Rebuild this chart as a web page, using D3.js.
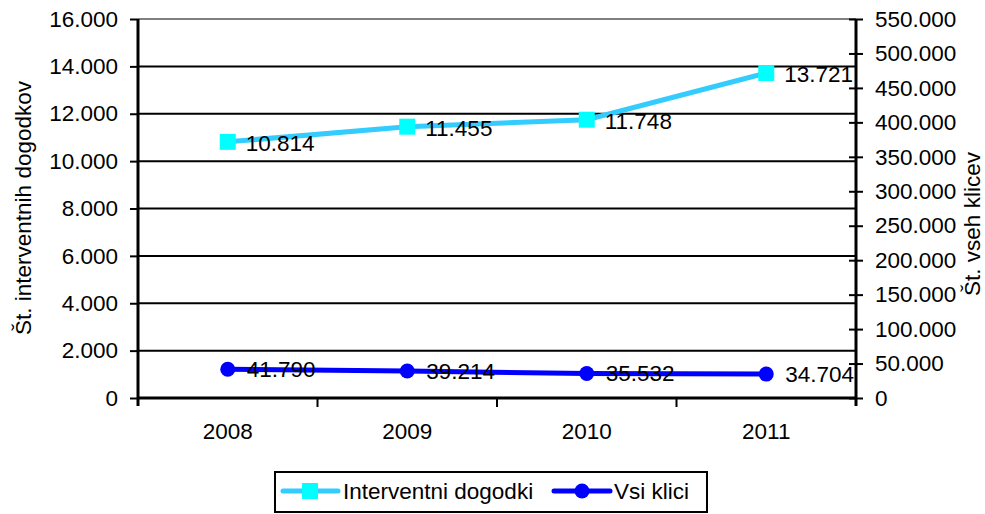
<!DOCTYPE html>
<html>
<head>
<meta charset="utf-8">
<script src="https://cdn.jsdelivr.net/npm/d3@7"></script>
<style>
body{margin:0;background:#fff;}
text{font-family:"Liberation Sans",Arial,sans-serif;}
</style>
</head>
<body>
<div id="chart"></div>
<script>
// Data
var years = ["2008", "2009", "2010", "2011"];
var interventni = [10814, 11455, 11748, 13721];
var vsiKlici = [41790, 39214, 35532, 34704];
var leftTicks = [0, 2000, 4000, 6000, 8000, 10000, 12000, 14000, 16000];
var rightTicks = [0, 50000, 100000, 150000, 200000, 250000, 300000, 350000, 400000, 450000, 500000, 550000];

var W = 985, H = 514;
var m = {left: 138, right: 856, top: 19, bottom: 398};
var FS = "22.5px";

var fmt = function(v){ return d3.format(",")(v).replace(/,/g, "."); };

var svg = d3.select("#chart").append("svg")
	.attr("width", W).attr("height", H);

var x = d3.scaleBand().domain(years).range([m.left, m.right]);
var yL = d3.scaleLinear().domain([0, 16000]).range([m.bottom, m.top]);
var yR = d3.scaleLinear().domain([0, 550000]).range([m.bottom, m.top]);

// gridlines
svg.selectAll(".grid").data(leftTicks.slice(1)).enter().append("line")
	.attr("x1", m.left).attr("x2", m.right)
	.attr("y1", function(d){return yL(d);}).attr("y2", function(d){return yL(d);})
	.style("stroke", function(d){return d == 16000 ? "#808080" : "#000";})
	.style("stroke-width", 2);

// left axis
var gL = svg.append("g").attr("transform", "translate(" + m.left + ",0)")
	.call(d3.axisLeft(yL).tickValues(leftTicks).tickFormat(fmt).tickSize(8).tickPadding(12));
// right axis
var gR = svg.append("g").attr("transform", "translate(" + m.right + ",0)")
	.call(d3.axisRight(yR).tickValues(rightTicks).tickFormat(fmt).tickSize(7).tickPadding(12));
gR.selectAll(".tick line").attr("x1", -7);
// bottom axis
var gB = svg.append("g").attr("transform", "translate(0," + m.bottom + ")")
	.call(d3.axisBottom(x).tickSize(0).tickPadding(25));
gB.selectAll(".tick line").remove();
gB.selectAll(".sep").data(years.slice(1)).enter().append("line")
	.attr("x1", function(d){return x(d);}).attr("x2", function(d){return x(d);})
	.attr("y1", 0).attr("y2", 9)
	.style("stroke", "#000").style("stroke-width", 2);

[gL, gR, gB].forEach(function(g){
	g.select(".domain").style("stroke", "#000").style("stroke-width", 3);
	g.selectAll(".tick line").style("stroke", "#000").style("stroke-width", 2);
	g.selectAll("text").style("font-size", FS).style("fill", "#000")
		.style("font-family", "'Liberation Sans', Arial, sans-serif");
});
gB.select(".domain").attr("d", "M" + m.left + ",0H" + m.right);
gL.select(".domain").attr("d", "M0," + m.top + "V" + (m.bottom + 8));
gR.select(".domain").attr("d", "M0," + m.top + "V" + (m.bottom + 8));

// axis titles
svg.append("text")
	.attr("transform", "translate(31,208) rotate(-90)")
	.attr("text-anchor", "middle")
	.style("font-size", FS)
	.text("Št. interventnih dogodkov");
svg.append("text")
	.attr("transform", "translate(980,224) rotate(-90)")
	.attr("text-anchor", "middle")
	.style("font-size", FS)
	.text("Št. vseh klicev");

var cx = function(d, i){ return x(years[i]) + x.bandwidth() / 2; };

// Interventni dogodki
var lineL = d3.line().x(function(d, i){return cx(d, i);}).y(function(d){return yL(d);});
svg.append("path").datum(interventni)
	.attr("d", lineL).style("fill", "none")
	.style("stroke", "#33CCFF").style("stroke-width", 5);
svg.selectAll(".sq").data(interventni).enter().append("rect")
	.attr("x", function(d, i){return cx(d, i) - 8;})
	.attr("y", function(d){return yL(d) - 8;})
	.attr("width", 16).attr("height", 16)
	.style("fill", "#00FFFF");
svg.selectAll(".lblL").data(interventni).enter().append("text")
	.attr("x", function(d, i){return cx(d, i) + 18;})
	.attr("y", function(d){return yL(d) + 1;})
	.attr("dy", "0.35em")
	.style("font-size", FS)
	.text(fmt);

// Vsi klici
var lineR = d3.line().x(function(d, i){return cx(d, i);}).y(function(d){return yR(d);});
svg.append("path").datum(vsiKlici)
	.attr("d", lineR).style("fill", "none")
	.style("stroke", "#0000FF").style("stroke-width", 5);
svg.selectAll(".ci").data(vsiKlici).enter().append("circle")
	.attr("cx", function(d, i){return cx(d, i);})
	.attr("cy", function(d){return yR(d);})
	.attr("r", 7.5)
	.style("fill", "#0000FF");
svg.selectAll(".lblR").data(vsiKlici).enter().append("text")
	.attr("x", function(d, i){return cx(d, i) + 19;})
	.attr("y", function(d){return yR(d);})
	.attr("dy", "0.35em")
	.style("font-size", FS)
	.text(fmt);

// legend
var lg = svg.append("g");
lg.append("rect").attr("x", 275).attr("y", 472).attr("width", 432).attr("height", 40)
	.style("fill", "#fff").style("stroke", "#000").style("stroke-width", 2);
lg.append("line").attr("x1", 283).attr("x2", 338).attr("y1", 491).attr("y2", 491)
	.style("stroke", "#33CCFF").style("stroke-width", 5).style("stroke-linecap", "round");
lg.append("rect").attr("x", 302).attr("y", 483).attr("width", 16).attr("height", 16)
	.style("fill", "#00FFFF");
lg.append("text").attr("x", 343).attr("y", 491).attr("dy", "0.35em")
	.style("font-size", FS).text("Interventni dogodki");
lg.append("line").attr("x1", 554).attr("x2", 610).attr("y1", 491).attr("y2", 491)
	.style("stroke", "#0000FF").style("stroke-width", 5).style("stroke-linecap", "round");
lg.append("circle").attr("cx", 582).attr("cy", 491).attr("r", 7.5).style("fill", "#0000FF");
lg.append("text").attr("x", 614).attr("y", 491).attr("dy", "0.35em")
	.style("font-size", FS).text("Vsi klici");
</script>
</body>
</html>
